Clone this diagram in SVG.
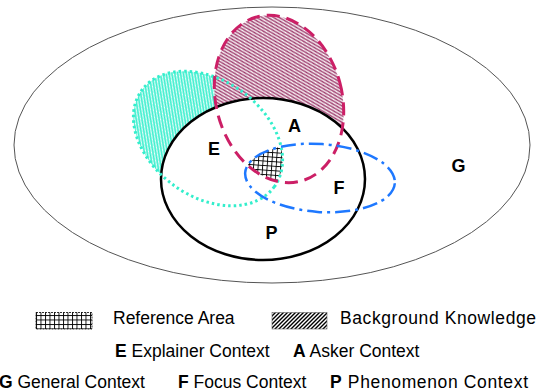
<svg xmlns="http://www.w3.org/2000/svg" width="537" height="392" viewBox="0 0 537 392">
<style>
.lbl{font-family:"Liberation Sans",Arial,sans-serif;font-weight:bold;font-size:18px;text-anchor:middle;fill:#000}
.leg{font-family:"Liberation Sans",Arial,sans-serif;font-size:17.5px;fill:#000}
.b{font-weight:bold}
</style>
<defs>
<pattern id="hatchM" patternUnits="userSpaceOnUse" width="4" height="4">
<rect width="4" height="4" fill="#fff"/>
<path d="M-1,-1L5,5M-1,3L1,5M3,-1L5,1" stroke="#993366" stroke-width="1.4"/>
</pattern>
<pattern id="hatchC" patternUnits="userSpaceOnUse" width="4" height="4">
<rect width="4" height="4" fill="#fff"/>
<path d="M-1,-1L5,5M-1,3L1,5M3,-1L5,1" stroke="#33EECC" stroke-width="1.6"/>
</pattern>
<pattern id="hatchK" patternUnits="userSpaceOnUse" width="4" height="4">
<rect width="4" height="4" fill="#fff"/>
<path d="M-1,5L5,-1M-1,1L1,-1M3,5L5,3" stroke="#000" stroke-width="1.4"/>
</pattern>
<pattern id="grid" patternUnits="userSpaceOnUse" width="4.5" height="4.5">
<rect width="4.5" height="4.5" fill="#fff"/>
<path d="M0 0.5H4.5M0.5 0V4.5" stroke="#000" stroke-width="0.9" fill="none"/>
</pattern>
<clipPath id="clipE"><ellipse cx="0" cy="0" rx="82" ry="58" transform="translate(208,138.5) rotate(36)"/></clipPath>
<clipPath id="clipA"><ellipse cx="0" cy="0" rx="63" ry="85" transform="translate(279,99) rotate(-15)"/></clipPath>
<mask id="maskA" maskUnits="userSpaceOnUse" x="0" y="0" width="537" height="392">
<rect width="537" height="392" fill="#fff"/>
<ellipse cx="263" cy="179" rx="102" ry="81" fill="#000"/>
</mask>
<mask id="maskE" maskUnits="userSpaceOnUse" x="0" y="0" width="537" height="392">
<rect width="537" height="392" fill="#fff"/>
<ellipse cx="263" cy="179" rx="102" ry="81" fill="#000"/>
<ellipse cx="0" cy="0" rx="63" ry="85" transform="translate(279,99) rotate(-15)" fill="#000"/>
</mask>
</defs>
<rect width="537" height="392" fill="#fff"/>

<g id="G">
<ellipse cx="272" cy="145" rx="258" ry="138" fill="none" stroke="#555" stroke-width="1"/>
<text class="lbl" x="458.5" y="172">G</text>
</g>

<g id="fills">
<g mask="url(#maskE)"><ellipse cx="0" cy="0" rx="82" ry="58" transform="translate(208,138.5) rotate(36)" fill="url(#hatchC)"/></g>
<g mask="url(#maskA)"><ellipse cx="0" cy="0" rx="63" ry="85" transform="translate(279,99) rotate(-15)" fill="url(#hatchM)"/></g>
<g id="reference-area" clip-path="url(#clipE)"><g clip-path="url(#clipA)">
<ellipse cx="0" cy="0" rx="75" ry="34" transform="translate(320,178) rotate(4)" fill="url(#grid)"/>
</g></g>
</g>

<g id="P">
<ellipse cx="263" cy="179" rx="102" ry="81" fill="none" stroke="#000" stroke-width="2.5"/>
<text class="lbl" x="271.5" y="239">P</text>
</g>

<g id="E">
<ellipse cx="0" cy="0" rx="82" ry="58" transform="translate(208,138.5) rotate(36)" fill="none" stroke="#33EECC" stroke-width="3" stroke-dasharray="2.5 3"/>
<text class="lbl" x="214" y="155">E</text>
</g>

<g id="A">
<ellipse cx="0" cy="0" rx="63" ry="85" transform="translate(279,99) rotate(-15)" fill="none" stroke="#CC1F66" stroke-width="3" stroke-dasharray="13 7"/>
<text class="lbl" x="294.5" y="132">A</text>
</g>

<g id="F">
<ellipse cx="0" cy="0" rx="75" ry="34" transform="translate(320,178) rotate(4)" fill="none" stroke="#1E78FF" stroke-width="2.5" stroke-dasharray="15 5 3 5"/>
<text class="lbl" x="339" y="194">F</text>
</g>

<g id="connectors"></g>

<g id="legend">
<rect x="36" y="312.5" width="56" height="16.5" fill="url(#grid)" stroke="#000" stroke-width="0.8" stroke-dasharray="2 1"/>
<text class="leg" x="113" y="324">Reference Area</text>
<rect x="272" y="312.5" width="55" height="16.5" fill="url(#hatchK)" stroke="#666" stroke-width="0.6"/>
<text class="leg" x="340" y="324" textLength="196">Background Knowledge</text>
<text class="leg" x="115" y="357"><tspan class="b">E</tspan> Explainer Context</text>
<text class="leg" x="293" y="357"><tspan class="b">A</tspan> Asker Context</text>
<text class="leg" x="-1" y="388"><tspan class="b">G</tspan> General Context</text>
<text class="leg" x="178" y="388"><tspan class="b">F</tspan> Focus Context</text>
<text class="leg" x="330" y="388" textLength="198"><tspan class="b">P</tspan> Phenomenon Context</text>
</g>
</svg>
